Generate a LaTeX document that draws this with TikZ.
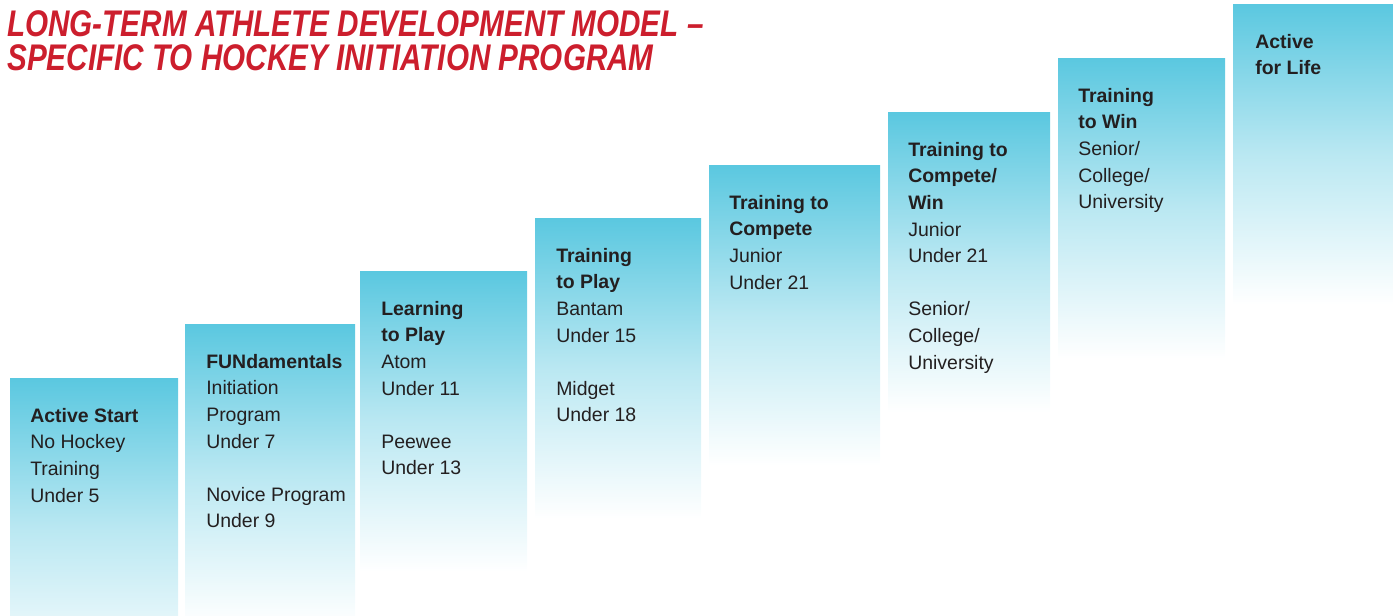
\documentclass[tikz,border=0pt]{standalone}
\usepackage{fontspec}
\setmainfont{Liberation Sans}
\newfontfamily\titlefont[FakeStretch=0.8]{Liberation Sans}
\definecolor{stepcyan}{RGB}{91,200,224}
\definecolor{titlered}{RGB}{204,30,45}
\definecolor{inktext}{RGB}{35,31,32}
\tikzset{
  stepcol/.style={top color=stepcyan, bottom color=white, middle color=stepcyan!42!white},
  steptext/.style={anchor=north west, inner sep=0pt, align=left, text=inktext,
    font=\fontsize{14.6pt}{19.95pt}\selectfont},
  titletext/.style={anchor=base west, inner sep=0pt, text=titlered,
    font=\titlefont\bfseries\itshape\fontsize{27.8pt}{33pt}\selectfont}
}
\newcommand{\gapline}{\\[19.95pt]}
\begin{document}
\begin{tikzpicture}[x=0.75pt,y=-0.75pt]
\useasboundingbox (0,0) rectangle (1393,616);
\clip (0,0) rectangle (1393,616);
% columns
\shade[stepcol] (10,379) rectangle (178,679);
\shade[stepcol] (185,325) rectangle (355,625);
\shade[stepcol] (360,272) rectangle (527,572);
\shade[stepcol] (535,219) rectangle (701,519);
\shade[stepcol] (709,166) rectangle (880,466);
\shade[stepcol] (888,113) rectangle (1050,413);
\shade[stepcol] (1058,59) rectangle (1225,359);
\shade[stepcol] (1233,5) rectangle (1393,305);
% title
\node[titletext] (t1) at (7,37) {LONG-TERM ATHLETE DEVELOPMENT MODEL –};
\node[titletext] (t2) at (7,71) {SPECIFIC TO HOCKEY INITIATION PROGRAM};
% texts
\node[steptext] (s1) at (30,408) {\textbf{Active Start}\\No Hockey\\Training\\Under 5};
\node[steptext] (s2) at (206,354) {\textbf{FUNdamentals}\\Initiation\\Program\\Under 7\gapline Novice Program\\Under 9};
\node[steptext] (s3) at (381,301) {\textbf{Learning}\\\textbf{to Play}\\Atom\\Under 11\gapline Peewee\\Under 13};
\node[steptext] (s4) at (556,248) {\textbf{Training}\\\textbf{to Play}\\Bantam\\Under 15\gapline Midget\\Under 18};
\node[steptext] (s5) at (729,195) {\textbf{Training to}\\\textbf{Compete}\\Junior\\Under 21};
\node[steptext] (s6) at (908,142) {\textbf{Training to}\\\textbf{Compete/}\\\textbf{Win}\\Junior\\Under 21\gapline Senior/\\College/\\University};
\node[steptext] (s7) at (1078,88) {\textbf{Training}\\\textbf{to Win}\\Senior/\\College/\\University};
\node[steptext] (s8) at (1255,34) {\textbf{Active}\\\textbf{for Life}};
\end{tikzpicture}
\end{document}
